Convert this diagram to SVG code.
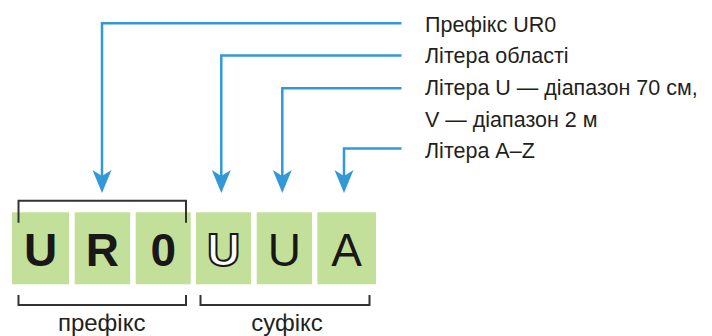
<svg xmlns="http://www.w3.org/2000/svg" width="712" height="336" viewBox="0 0 712 336">
<style>
.box{fill:#c3e09b}
.lbl{font-family:"Liberation Sans",Arial,sans-serif;font-size:21.5px;fill:#231f20}
.big{font-family:"Liberation Sans",Arial,sans-serif;font-size:46px;fill:#1a1718;text-anchor:middle}
.bold{font-weight:bold}
.cap{font-family:"Liberation Sans",Arial,sans-serif;font-size:24px;fill:#231f20;text-anchor:middle}
.con{fill:none;stroke:#3399d6;stroke-width:2.5}
.br{fill:none;stroke:#333;stroke-width:2}
</style>
<defs>
<marker id="ah" markerUnits="userSpaceOnUse" viewBox="-24 -10 25 20" refX="-13" refY="0" markerWidth="25" markerHeight="20" orient="auto">
<path d="M0,0 L-23,-9.5 L-17,0 L-23,9.5 Z" fill="#3399d6"/>
</marker>
</defs>
<g id="connectors">
<path class="con" d="M401.5,23.3 H102 V180" marker-end="url(#ah)"/>
<path class="con" d="M401.5,55.5 H221.3 V180" marker-end="url(#ah)"/>
<path class="con" d="M401.5,88.3 H282.3 V180" marker-end="url(#ah)"/>
<path class="con" d="M401.5,148.5 H344 V180" marker-end="url(#ah)"/>
</g>
<g id="label-prefix"><text class="lbl" x="425" y="31.7">Префікс UR0</text></g>
<g id="label-region"><text class="lbl" x="425" y="63.3">Літера області</text></g>
<g id="label-band"><text class="lbl" x="425" y="95">Літера U — діапазон 70 см,</text><text class="lbl" x="425" y="126.7">V — діапазон 2 м</text></g>
<g id="label-az"><text class="lbl" x="425" y="158.3">Літера A–Z</text></g>
<g id="box-U1"><rect class="box" x="12" y="212.3" width="57" height="72"/><text class="big bold" x="40.5" y="266">U</text></g>
<g id="box-R"><rect class="box" x="74.7" y="212.3" width="55.5" height="72"/><text class="big bold" x="102.4" y="266">R</text></g>
<g id="box-0"><rect class="box" x="135.7" y="212.3" width="55" height="72"/><text class="big bold" x="163.2" y="266">0</text></g>
<g id="box-U2"><rect class="box" x="196" y="212.3" width="55" height="72"/><text class="big bold" x="223.5" y="266" style="fill:#fff;stroke:#1a1718;stroke-width:2">U</text></g>
<g id="box-U3"><rect class="box" x="256.7" y="212.3" width="55.3" height="72"/><text class="big" x="284.3" y="266">U</text></g>
<g id="box-A"><rect class="box" x="317.3" y="212.3" width="58.7" height="72"/><text class="big" x="346.6" y="266">A</text></g>
<g id="brackets">
<path class="br" d="M18.5,222.7 V200.7 H186 V222.7"/>
<path class="br" d="M18.5,295 V305 H186 V295"/>
<path class="br" d="M200.5,295 V305 H369.5 V295"/>
</g>
<g id="cap-prefix"><text class="cap" x="101.7" y="331">префікс</text></g>
<g id="cap-suffix"><text class="cap" x="287" y="331">суфікс</text></g>
</svg>
